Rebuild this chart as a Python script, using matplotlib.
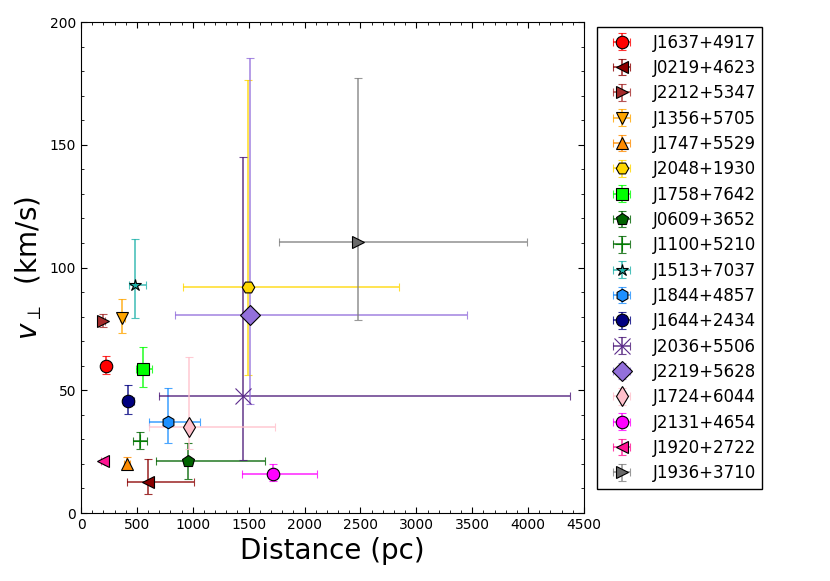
import matplotlib
matplotlib.use('Agg')
from matplotlib import pyplot as plt
from matplotlib.colors import to_rgba
from matplotlib.ticker import MultipleLocator

names = ['J1637+4917', 'J0219+4623', 'J2212+5347', 'J1356+5705', 'J1747+5529',
         'J2048+1930', 'J1758+7642', 'J0609+3652', 'J1100+5210', 'J1513+7037',
         'J1844+4857', 'J1644+2434', 'J2036+5506', 'J2219+5628', 'J1724+6044',
         'J2131+4654', 'J1920+2722', 'J1936+3710']
dist = [221, 597, 194, 370, 411, 1497, 552, 960, 525, 486,
        778, 420, 1452, 1512, 966, 1718, 194, 2481]
dist_lo = [25, 183, 25, 25, 30, 582, 63, 290, 63, 59,
           167, 40, 752, 668, 355, 275, 15, 707]
dist_hi = [25, 411, 25, 25, 30, 1351, 80, 686, 68, 99,
           287, 50, 2923, 1944, 767, 396, 15, 1512]
vel = [59.9, 12.5, 78.2, 79.6, 20.0, 92.2, 58.7, 21.2, 29.3, 92.9,
       37.1, 45.5, 47.8, 80.8, 35.2, 15.9, 21.1, 110.3]
vel_lo = [3.3, 4.8, 2.6, 6.3, 2.0, 36.0, 7.2, 7.2, 3.4, 13.6,
          8.5, 5.3, 26.2, 36.4, 9.0, 2.7, 0.5, 31.8]
vel_hi = [4.0, 9.4, 2.8, 7.4, 2.9, 84.2, 8.9, 7.5, 3.8, 18.6,
          13.8, 6.8, 97.3, 104.4, 28.5, 3.9, 0.5, 67.0]

colors = ['red', 'darkred', 'brown', 'orange', 'darkorange',
          'gold', 'lime', 'darkgreen', 'green', 'lightseagreen',
          'dodgerblue', 'navy', '#5b2a8c', 'mediumpurple', 'pink',
          'magenta', 'deeppink', 'dimgray']
ecolors = ['red', 'darkred', 'brown', 'orange', 'darkorange',
           'gold', 'lime', 'darkgreen', 'darkgreen', 'lightseagreen',
           'dodgerblue', 'navy', '#4b1878', 'mediumpurple', 'pink',
           'magenta', 'deeppink', 'gray']
markers = ['o', '<', '>', 'v', '^', 'H', 's', 'p', '+', '*',
           'h', 'o', 'x', 'D', 'd', 'o', '<', '>']
sizes = [9, 9, 9, 9, 9, 9, 9, 9, 10, 9,
         9, 9, 11, 10, 10, 9, 9, 9]

fig = plt.figure(figsize=(8.3, 5.81), dpi=100)
ax = fig.add_subplot(111)
fig.subplots_adjust(left=0.0976, right=0.7036, top=0.962, bottom=0.117)

for i in range(len(names)):
    mec = colors[i] if markers[i] in ('x', '+') else 'k'
    ax.errorbar(dist[i], vel[i],
                xerr=[[dist_lo[i]], [dist_hi[i]]],
                yerr=[[vel_lo[i]], [vel_hi[i]]],
                fmt=markers[i], color=colors[i], mec=mec, mew=0.8,
                ms=sizes[i], ecolor=to_rgba(ecolors[i], 0.8),
                elinewidth=1.2, capsize=3, label=names[i])

ax.set_xlim(0, 4500)
ax.set_ylim(0, 200)
ax.xaxis.set_major_locator(MultipleLocator(500))
ax.xaxis.set_minor_locator(MultipleLocator(100))
ax.yaxis.set_major_locator(MultipleLocator(50))
ax.yaxis.set_minor_locator(MultipleLocator(10))
ax.tick_params(which='both', direction='in', top=True, right=True, labelsize=10)
ax.tick_params(which='major', length=4)
ax.tick_params(which='minor', length=2)

ax.set_xlabel('Distance (pc)', fontsize=20)
ax.set_ylabel(r'$v_\perp$  (km/s)', fontsize=20)

ax.legend(loc='upper left', bbox_to_anchor=(1.025, 0.99), numpoints=1,
          fontsize=12, fancybox=False, edgecolor='k', framealpha=1,
          labelspacing=0.44, borderaxespad=0, handlelength=2.2,
          handletextpad=0.75)

fig.savefig('out.png', dpi=100)
